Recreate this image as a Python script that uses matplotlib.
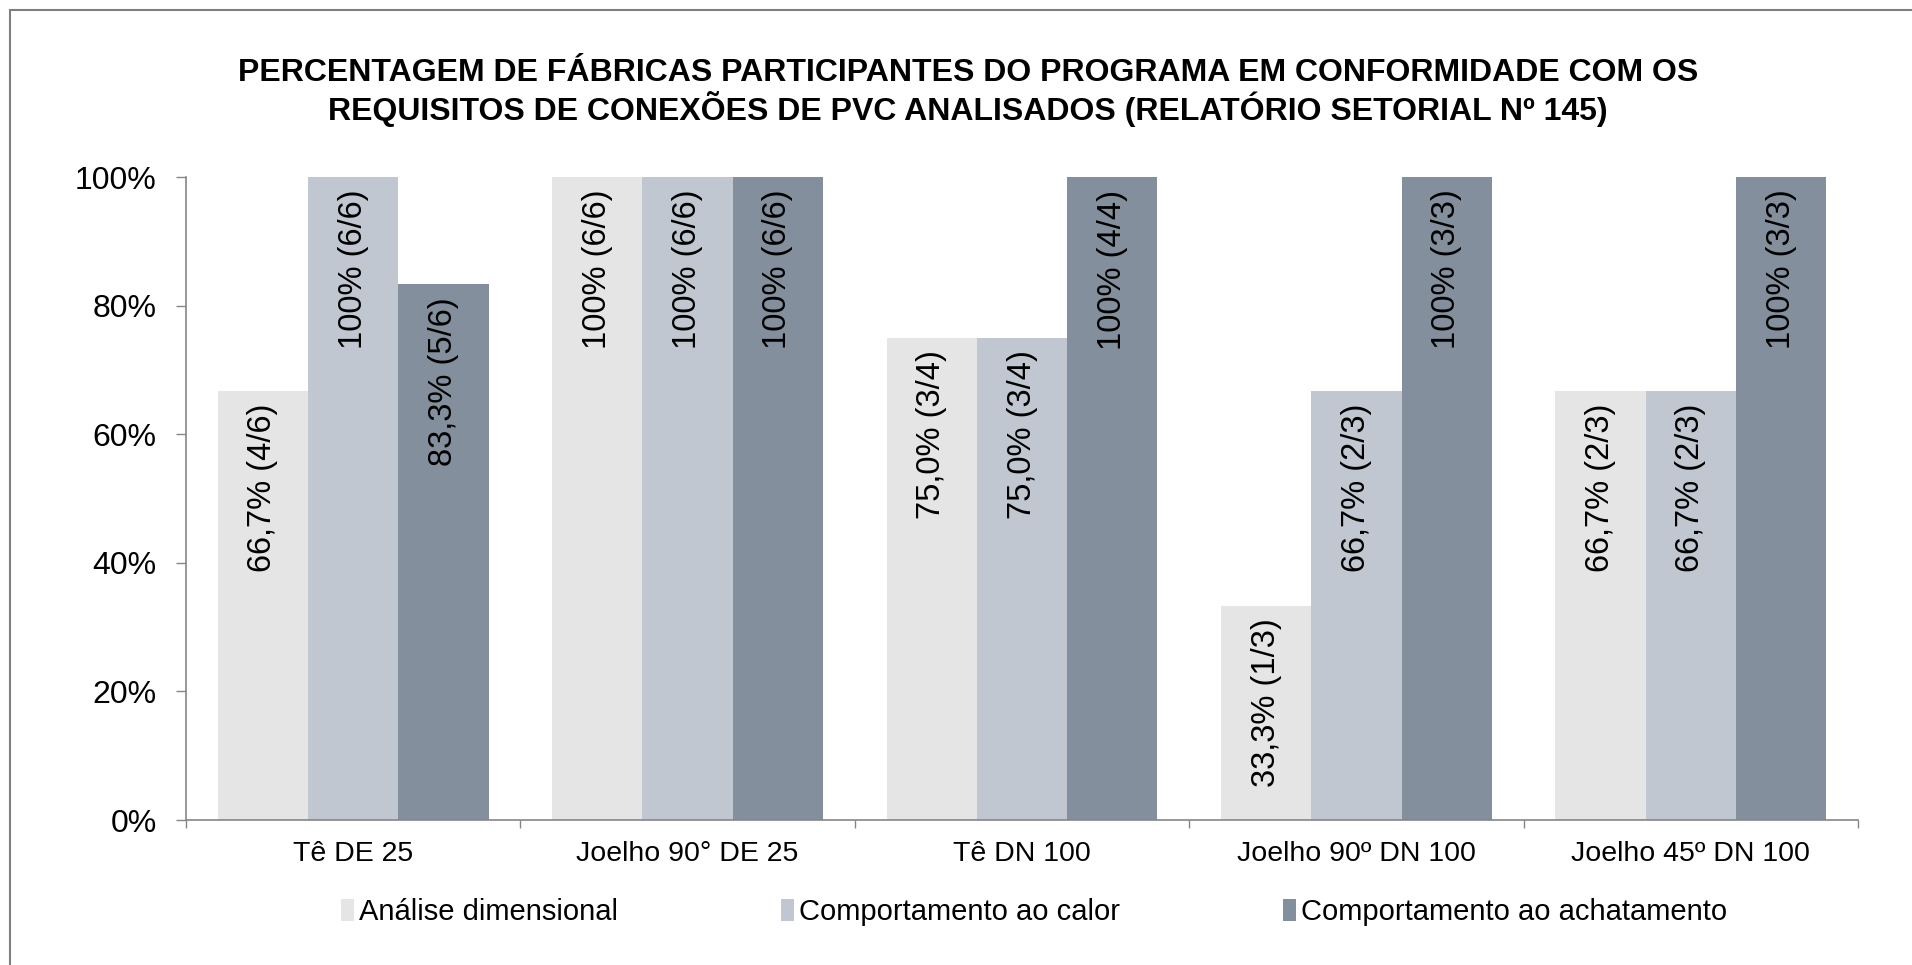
import matplotlib
matplotlib.use("Agg")
import matplotlib.pyplot as plt
from matplotlib.patches import Rectangle
import numpy as np

plt.rcParams['font.family'] = ['Liberation Sans', 'DejaVu Sans']

categories = ['Tê DE 25', 'Joelho 90° DE 25', 'Tê DN 100', 'Joelho 90º DN 100', 'Joelho 45º DN 100']
series_names = ['Análise dimensional', 'Comportamento ao calor', 'Comportamento ao achatamento']
dimensional = [66.7, 100, 75.0, 33.3, 66.7]
calor = [100, 100, 75.0, 66.7, 66.7]
achatamento = [83.3, 100, 100, 100, 100]
dim_counts = ['4/6', '6/6', '3/4', '1/3', '2/3']
calor_counts = ['6/6', '6/6', '3/4', '2/3', '2/3']
achat_counts = ['5/6', '6/6', '4/4', '3/3', '3/3']
yticks = [0, 20, 40, 60, 80, 100]
title = ('PERCENTAGEM DE FÁBRICAS PARTICIPANTES DO PROGRAMA EM CONFORMIDADE COM OS\n'
         'REQUISITOS DE CONEXÕES DE PVC ANALISADOS (RELATÓRIO SETORIAL Nº 145)')

colors = ['#E5E5E5', '#C1C7D0', '#838F9C']

W, H = 1912, 965
fig = plt.figure(figsize=(W / 100, H / 100), dpi=100)
ax = fig.add_axes([186 / W, 1 - 820 / H, (1858 - 186) / W, (820 - 177) / H])

x = np.arange(len(categories))
bw = 0.27
series = [dimensional, calor, achatamento]
counts = [dim_counts, calor_counts, achat_counts]

def fmt(v, c):
    if v >= 100:
        s = '100%'
    else:
        s = f'{v:.1f}'.replace('.', ',') + '%'
    return f'{s} ({c})'

for i, (vals, cnts) in enumerate(zip(series, counts)):
    pos = x + (i - 1) * bw
    ax.bar(pos, vals, width=bw, color=colors[i], label=series_names[i], zorder=2)
    for p, v, c in zip(pos, vals, cnts):
        ax.annotate(fmt(v, c), xy=(p, v), xytext=(0, -9), textcoords='offset points',
                    rotation=90, ha='center', va='top', fontsize=23.5, color='black',
                    zorder=3)

ax.set_xlim(-0.5, len(categories) - 0.5)
ax.set_ylim(0, 100)
ax.set_yticks(yticks)
ax.set_yticklabels([f'{t}%' for t in yticks], fontsize=23)
ax.tick_params(axis='y', length=7, width=1, color='#868686', pad=14)

ax.set_xticks(np.arange(-0.5, len(categories), 1.0))
ax.set_xticklabels([])
ax.tick_params(axis='x', which='major', length=6, width=1, color='#868686')
ax.set_xticks(x, minor=True)
ax.set_xticklabels(categories, minor=True, fontsize=20.5)
ax.tick_params(axis='x', which='minor', length=0, pad=15)

for s in ['top', 'right']:
    ax.spines[s].set_visible(False)
for s in ['left', 'bottom']:
    ax.spines[s].set_color('#868686')
    ax.spines[s].set_linewidth(1.2)
ax.spines['bottom'].set_zorder(4)

fig.text(968 / W, 1 - 92.5 / H, title, ha='center', va='center', fontsize=23,
         fontweight='bold', linespacing=1.08)

leg = fig.legend(loc='center', bbox_to_anchor=(1034 / W, 1 - 912 / H), ncol=3, frameon=False,
                 fontsize=21, handlelength=0.45, handleheight=0.75, handletextpad=0.15,
                 columnspacing=5.6)

fig.patches.append(Rectangle((10 / W, -0.2), 1.5, 1.2 - 10 / H, transform=fig.transFigure,
                             fill=False, edgecolor='#7F7F7F', linewidth=1.5, figure=fig))

fig.savefig('out.png', dpi=100)
